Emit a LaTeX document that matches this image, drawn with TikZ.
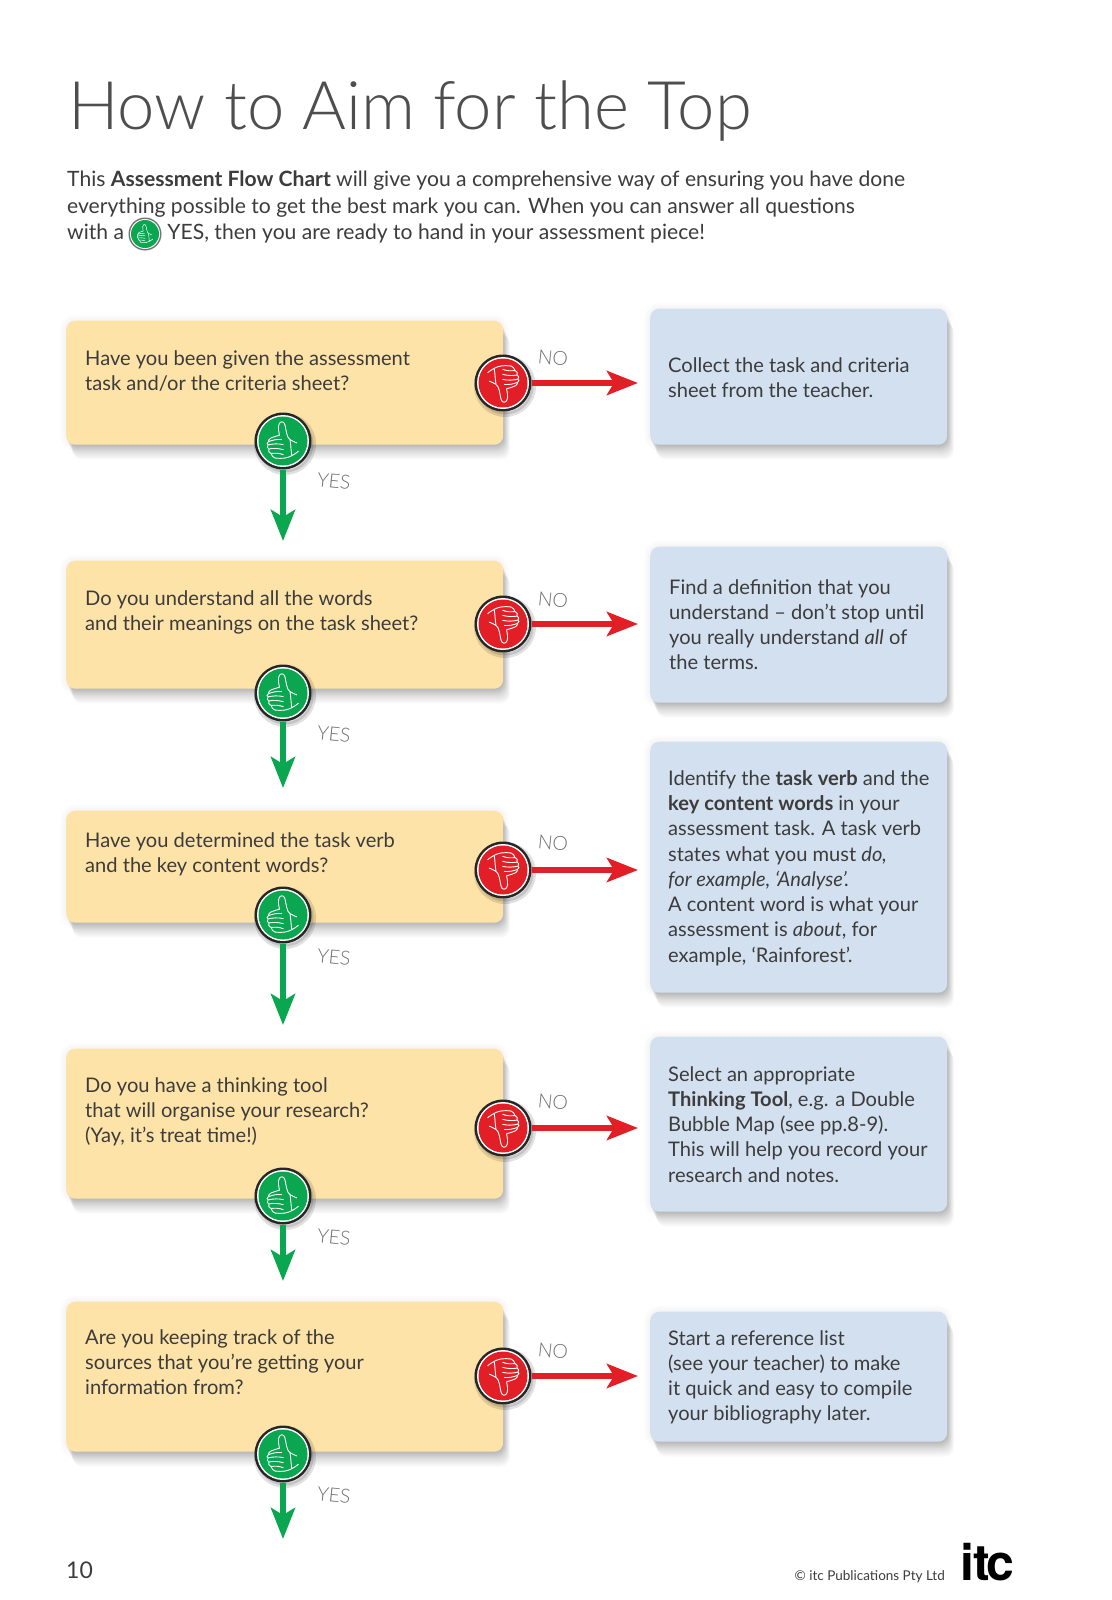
\documentclass[tikz,border=0pt]{standalone}
\usepackage{fontspec}
\setmainfont{Lato}
\newfontfamily\lightfont{Lato Light}
\usetikzlibrary{arrows.meta}
\definecolor{yellowbox}{HTML}{FDE3A7}
\definecolor{bluebox}{HTML}{D3E0F0}
\definecolor{inkgray}{HTML}{3C3C3C}
\definecolor{titlegray}{HTML}{4E4E4E}
\definecolor{handgray}{HTML}{707070}
\definecolor{yesgreen}{HTML}{0AA650}
\definecolor{nored}{HTML}{E21F26}
% #1 line width
\newcommand{\thumbshape}[1]{%
 \draw[white,line width=#1,line join=round,line cap=round,fill=none]
  (-.15,.24) .. controls (-.17,.4) and (-.21,.5) .. (-.19,.61)
  .. controls (-.17,.78) and (-.06,.84) .. (.03,.77)
  .. controls (.1,.7) and (.11,.5) .. (.15,.33)
  .. controls (.18,.2) and (.22,.1) .. (.29,.06)
  .. controls (.38,.0) and (.48,-.04) .. (.57,-.08)
  (-.15,.24) .. controls (-.28,.2) and (-.42,.17) .. (-.51,.12)
  .. controls (-.58,.07) and (-.62,.02) .. (-.61,-.03)
  .. controls (-.45,.04) and (-.25,.08) .. (-.06,.06)
  (-.61,-.03) .. controls (-.68,-.07) and (-.68,-.14) .. (-.62,-.16)
  .. controls (-.45,-.12) and (-.2,-.1) .. (.01,-.15)
  (-.62,-.16) .. controls (-.68,-.22) and (-.66,-.31) .. (-.59,-.33)
  .. controls (-.42,-.3) and (-.2,-.3) .. (.01,-.36)
  (-.59,-.33) .. controls (-.62,-.42) and (-.58,-.5) .. (-.5,-.52)
  .. controls (-.35,-.5) and (-.15,-.5) .. (.01,-.57)
  (-.5,-.52) .. controls (-.47,-.62) and (-.42,-.68) .. (-.33,-.71)
  .. controls (-.2,-.74) and (-.05,-.72) .. (.08,-.71)
  .. controls (.28,-.68) and (.48,-.56) .. (.64,-.43)
  (.29,.06) .. controls (.33,-.15) and (.33,-.38) .. (.36,-.57);
}
\tikzset{
 shadowlayer/.style={preaction={fill=black,draw=none,fill opacity=.017,transform canvas={xshift={0.45*#1 pt},yshift={-#1 pt}}}},
 glowlayer/.style={preaction={draw=black,fill=none,line width=#1,draw opacity=.012}},
 softshadow/.style={glowlayer=12pt,glowlayer=8pt,glowlayer=4pt,
  shadowlayer=15,shadowlayer=14,shadowlayer=13,shadowlayer=12,shadowlayer=11,shadowlayer=10,shadowlayer=9,shadowlayer=8,
  shadowlayer=7,shadowlayer=6,shadowlayer=5,shadowlayer=4,shadowlayer=3,shadowlayer=2,shadowlayer=1},
 qbox/.style={softshadow,fill=yellowbox,rounded corners=9pt,minimum width=437pt,inner sep=0pt,anchor=north west},
 abox/.style={softshadow,fill=bluebox,rounded corners=9pt,minimum width=297pt,inner sep=0pt,anchor=north west},
 boxtext/.style={anchor=north west,inner sep=0pt,align=left,text=inkgray,font=\fontsize{20.1}{25.3}\selectfont},
 hand/.style={text=handgray,font=\lightfont\fontsize{19.5}{20}\selectfont,rotate=-6,inner sep=0pt},
 badge/.style={circle,minimum size=#1,inner sep=0pt},
 noarrow/.style={draw=nored,line width=6pt,-{Stealth[length=31pt,width=24pt,inset=7pt]}},
 yesarrow/.style={draw=yesgreen,line width=6pt,-{Stealth[length=31pt,width=24pt,inset=7pt]}},
}
% #1 name, #2 x, #3 y, #4 colour, #5 rotation
\newcommand{\thumbbadge}[5]{%
 \node[badge=57pt,fill=black!85,preaction={draw=black,fill=black,line width=5pt,opacity=.12,transform canvas={xshift=2pt,yshift=-3pt}}] (#1) at (#2,#3) {};
 \node[badge=52pt,fill=white] at (#1) {};
 \node[badge=49pt,fill=#4] at (#1) {};
 \begin{scope}[shift={(#1)},x=24pt,y=24pt,rotate=#5]\thumbshape{.9pt}\end{scope}
}
\begin{document}
\begin{tikzpicture}[x=1pt,y=-1pt]
\useasboundingbox (0,0) rectangle (1111,1600);
\fill[white] (0,0) rectangle (1111,1600);
\node[anchor=base west,inner sep=0pt,text=titlegray,font=\lightfont\fontsize{67}{67}\selectfont] (title) at (68,129) {How to Aim for the Top};
\node[anchor=north west,inner sep=0pt,align=left,text=inkgray,font=\fontsize{21.1}{26.5}\selectfont] (intro) at (67,171)
 {This \textbf{Assessment Flow Chart} will give you a comprehensive way of ensuring you have done\\
  everything possible to get the best mark you can. When you can answer all questions\\
  with a \hspace{38pt}YES, then you are ready to hand in your assessment piece!};
% intro badge
\node[badge=33pt,fill=black!55] (inl) at (145,234) {};
\node[badge=30pt,fill=white] at (inl) {};
\node[badge=28pt,fill=yesgreen] at (inl) {};
\begin{scope}[shift={(inl)},x=12pt,y=12pt]\thumbshape{.5pt}\end{scope}
% question boxes
\node[qbox,minimum height=124pt] (q1) at (66,320.5) {};
\node[qbox,minimum height=128pt] (q2) at (66,560.5) {};
\node[qbox,minimum height=112pt] (q3) at (66,810.5) {};
\node[qbox,minimum height=150pt] (q4) at (66,1048.5) {};
\node[qbox,minimum height=150pt] (q5) at (66,1301.5) {};
% answer boxes
\node[abox,minimum height=136pt] (a1) at (650,308.5) {};
\node[abox,minimum height=156pt] (a2) at (650,546.5) {};
\node[abox,minimum height=251pt] (a3) at (650,741.5) {};
\node[abox,minimum height=175pt] (a4) at (650,1036.5) {};
\node[abox,minimum height=130pt] (a5) at (650,1311.5) {};
% question text
\node[boxtext] (tq1) at (85,350) {Have you been given the assessment\\task and/or the criteria sheet?};
\node[boxtext] (tq2) at (85,590) {Do you understand all the words\\and their meanings on the task sheet?};
\node[boxtext] (tq3) at (85,832) {Have you determined the task verb\\and the key content words?};
\node[boxtext] (tq4) at (85,1077) {Do you have a thinking tool\\that will organise your research?\\(Yay, it’s treat time!)};
\node[boxtext] (tq5) at (85,1329) {Are you keeping track of the\\sources that you’re getting your\\information from?};
% answer text
\node[boxtext] (ta1) at (668,357) {Collect the task and criteria\\sheet from the teacher.};
\node[boxtext] (ta2) at (669,579) {Find a definition that you\\understand – don’t stop until\\you really understand \textit{all} of\\the terms.};
\node[boxtext] (ta3) at (668,770) {Identify the \textbf{task verb} and the\\\textbf{key content words} in your\\assessment task. A task verb\\states what you must \textit{do,}\\\textit{for example, ‘Analyse’.}\\A content word is what your\\assessment is \textit{about}, for\\example, ‘Rainforest’.};
\node[boxtext] (ta4) at (668,1066) {Select an appropriate\\\textbf{Thinking Tool}, e.g. a Double\\Bubble Map (see pp.8-9).\\This will help you record your\\research and notes.};
\node[boxtext] (ta5) at (668,1330) {Start a reference list\\(see your teacher) to make\\it quick and easy to compile\\your bibliography later.};
% arrow ends
\coordinate (ne1) at (638,383);
\coordinate (ne2) at (638,624);
\coordinate (ne3) at (638,870);
\coordinate (ne4) at (638,1128);
\coordinate (ne5) at (638,1376);
\coordinate (ye1) at (283,541);
\coordinate (ye2) at (283,788);
\coordinate (ye3) at (283,1025);
\coordinate (ye4) at (283,1281);
\coordinate (ye5) at (283,1539);
\thumbbadge{n1}{503}{383}{nored}{180}
\thumbbadge{n2}{503}{624}{nored}{180}
\thumbbadge{n3}{503}{870}{nored}{180}
\thumbbadge{n4}{503}{1128}{nored}{180}
\thumbbadge{n5}{503}{1376}{nored}{180}
\thumbbadge{y1}{283}{441}{yesgreen}{0}
\thumbbadge{y2}{283}{693}{yesgreen}{0}
\thumbbadge{y3}{283}{915}{yesgreen}{0}
\thumbbadge{y4}{283}{1196}{yesgreen}{0}
\thumbbadge{y5}{283}{1454}{yesgreen}{0}
% connectors
\foreach \i in {1,...,5}{
 \draw[noarrow] (n\i.east) -- (ne\i);
 \draw[yesarrow] (y\i.south) -- (ye\i);
}
% hand labels
\node[hand] (ln1) at (553,358) {NO};
\node[hand] (ln2) at (553,600) {NO};
\node[hand] (ln3) at (553,843) {NO};
\node[hand] (ln4) at (553,1102) {NO};
\node[hand] (ln5) at (553,1351) {NO};
\node[hand] (ly1) at (334,481) {YES};
\node[hand] (ly2) at (334,734) {YES};
\node[hand] (ly3) at (334,957) {YES};
\node[hand] (ly4) at (334,1237) {YES};
\node[hand] (ly5) at (334,1495) {YES};
% footer
\node[anchor=base west,inner sep=0pt,text=inkgray,font=\fontsize{23}{23}\selectfont] (page) at (66,1578) {10};
\node[anchor=base east,inner sep=0pt,text=inkgray,font=\fontsize{13.5}{13.5}\selectfont] (copy) at (945,1580) {© itc Publications Pty Ltd};
\node[anchor=base west,inner sep=0pt,text=black,font=\fontspec{TeX Gyre Heros}\bfseries\fontsize{50}{50}\selectfont] (logo) at (960,1580) {i\kern-1pt t\kern-3pt c};
\end{tikzpicture}
\end{document}
